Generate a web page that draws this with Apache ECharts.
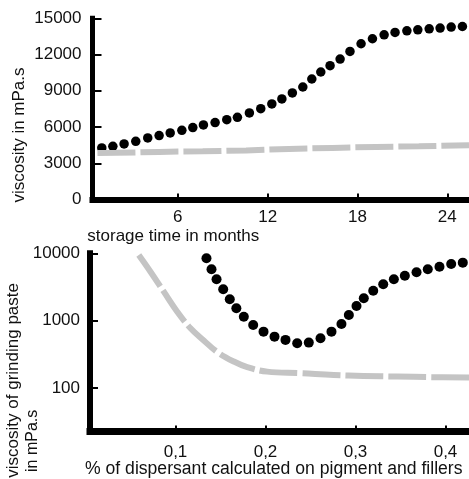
<!DOCTYPE html>
<html>
<head>
<meta charset="utf-8">
<script src="https://cdn.jsdelivr.net/npm/echarts@6/dist/echarts.min.js"></script>
<style>
html,body{margin:0;padding:0;background:#fff;}
#chart{width:469px;height:479px;}
</style>
</head>
<body>
<div id="chart"></div>
<script>
// ---- Top chart: viscosity vs storage time ----
const storageMonths = [0.92,1.66,2.41,3.19,3.99,4.75,5.49,6.27,7.0,7.71,8.49,9.27,9.98,10.78,11.54,12.28,12.95,13.65,14.35,14.95,15.55,16.17,16.84,17.5,18.24,19.0,19.78,20.51,21.3,22.03,22.79,23.52,24.26,25.01];
const storageViscosityDots = [4273,4405,4603,4818,5099,5289,5512,5727,5950,6174,6364,6612,6802,7165,7521,7909,8322,8818,9314,9975,10554,11074,11628,12256,12893,13306,13636,13826,13967,14050,14132,14190,14273,14322];
const storageDashMonths = [0.63,1.88,4.75,7.66,10.56,13.43,16.33,19.25,22.1,25.45];
const storageViscosityDash = [3840,3860,3942,3992,4062,4190,4273,4355,4405,4500];
const topXTicks = [6,12,18,24];
const topYTicks = [0,3000,6000,9000,12000,15000];

// ---- Bottom chart: grinding paste viscosity vs dispersant % ----
const dispersantDots = [0.1344,0.14,0.1456,0.153,0.1603,0.1676,0.1759,0.1863,0.1978,0.21,0.2222,0.2352,0.2481,0.2611,0.2733,0.2844,0.2926,0.3011,0.3092,0.3197,0.3308,0.3426,0.3548,0.3678,0.3803,0.3933,0.4063,0.4192];
const pasteViscosityDots = [8433,5794,4115,2924,2078,1529,1146,863,687,579,518,462,472,548,687,893,1216,1652,2148,2786,3467,4115,4653,5227,5794,6330,6939,7262];
const dispersantDash = [0.0592,0.0722,0.087,0.1019,0.1167,0.1314,0.1463,0.1648,0.1797,0.2019,0.2389,0.2759,0.3089,0.3463,0.3833,0.4261];
const pasteViscosityDash = [9435,5333,2692,1360,771,508,343,247,204,175,166,156,151,148,145,143];
const bottomXTicks = [0.1,0.2,0.3,0.4];
const bottomYTicks = [100,1000,10000];

const FONT = "'Liberation Sans', Arial, sans-serif";
const zip = (a, b) => a.map((v, i) => [v, b[i]]);
const dashColor = '#c4c4c4';

const chart = echarts.init(document.getElementById('chart'), null, {renderer: 'canvas'});
chart.setOption({
  animation: false,
  backgroundColor: '#fff',
  grid: [
    {left: 92.5, top: 18.3, right: 0, bottom: 279.5},
    {left: 90, top: 253.3, right: 0, bottom: 47.5}
  ],
  xAxis: [
    {
      gridIndex: 0, type: 'value', min: 0.3, max: 25.45,
      axisLine: {onZero: false, lineStyle: {color: '#000', width: 6, cap: 'square'}},
      axisTick: {inside: true, length: 6, lineStyle: {color: '#000', width: 2}, customValues: topXTicks},
      axisLabel: {customValues: topXTicks, margin: 9, color: '#111', fontSize: 17, fontFamily: FONT, formatter: v => String(v)},
      splitLine: {show: false}
    },
    {
      gridIndex: 1, type: 'value', min: 0.005, max: 0.4261,
      axisLine: {onZero: false, lineStyle: {color: '#000', width: 7, cap: 'square'}},
      axisTick: {inside: true, length: 6, lineStyle: {color: '#000', width: 2}, customValues: bottomXTicks},
      axisLabel: {customValues: bottomXTicks, margin: 12, color: '#111', fontSize: 17, fontFamily: FONT, formatter: v => v.toFixed(1).replace('.', ',')},
      splitLine: {show: false}
    }
  ],
  yAxis: [
    {
      gridIndex: 0, type: 'value', min: 0, max: 15000, interval: 3000,
      axisLine: {show: true, onZero: false, lineStyle: {color: '#000', width: 5, cap: 'square'}},
      axisTick: {show: true, inside: true, length: 9, lineStyle: {color: '#000', width: 2}},
      axisLabel: {margin: 11, color: '#111', fontSize: 17, fontFamily: FONT, formatter: v => String(v)},
      splitLine: {show: false}
    },
    {
      gridIndex: 1, type: 'log', logBase: 10, min: 22.6, max: 10000,
      axisLine: {show: true, onZero: false, lineStyle: {color: '#000', width: 6, cap: 'square'}},
      axisTick: {show: true, inside: true, length: 8, lineStyle: {color: '#000', width: 2}, customValues: bottomYTicks},
      axisLabel: {customValues: bottomYTicks, margin: 10, color: '#111', fontSize: 17, fontFamily: FONT, formatter: v => String(Math.round(v))},
      splitLine: {show: false}
    }
  ],
  series: [
    {
      type: 'line', xAxisIndex: 0, yAxisIndex: 0, data: zip(storageDashMonths, storageViscosityDash),
      showSymbol: false, symbol: 'none', lineStyle: {color: dashColor, width: 6, type: [38, 5], cap: 'butt'}
    },
    {
      type: 'scatter', xAxisIndex: 0, yAxisIndex: 0, data: zip(storageMonths, storageViscosityDots),
      symbol: 'circle', symbolSize: 9.5, itemStyle: {color: '#000', opacity: 1}
    },
    {
      type: 'line', xAxisIndex: 1, yAxisIndex: 1, data: zip(dispersantDash, pasteViscosityDash),
      showSymbol: false, symbol: 'none', smooth: 0.4,
      lineStyle: {color: dashColor, width: 6, type: [38, 5], cap: 'butt', join: 'round'}
    },
    {
      type: 'scatter', xAxisIndex: 1, yAxisIndex: 1, data: zip(dispersantDots, pasteViscosityDots),
      symbol: 'circle', symbolSize: 10, itemStyle: {color: '#000', opacity: 1}
    }
  ],
  graphic: [
    {type: 'text', x: 19, y: 135, rotation: Math.PI / 2,
     style: {text: 'viscosity in mPa.s', font: '17px ' + FONT, fill: '#111', textAlign: 'center', textVerticalAlign: 'middle'}},
    {type: 'text', x: 87.3, y: 236,
     style: {text: 'storage time in months', font: '17px ' + FONT, fill: '#111', textAlign: 'left', textVerticalAlign: 'middle'}},
    {type: 'text', x: 13, y: 283, rotation: Math.PI / 2,
     style: {text: 'viscosity of grinding paste', font: '17px ' + FONT, fill: '#111', textAlign: 'right', textVerticalAlign: 'middle'}},
    {type: 'text', x: 33, y: 472, rotation: Math.PI / 2,
     style: {text: 'in mPa.s', font: '16px ' + FONT, fill: '#111', textAlign: 'left', textVerticalAlign: 'middle'}},
    {type: 'text', x: 85, y: 469.5,
     style: {text: '% of dispersant calculated on pigment and fillers', font: '17.6px ' + FONT, fill: '#111', textAlign: 'left', textVerticalAlign: 'middle'}}
  ]
});
</script>
</body>
</html>
